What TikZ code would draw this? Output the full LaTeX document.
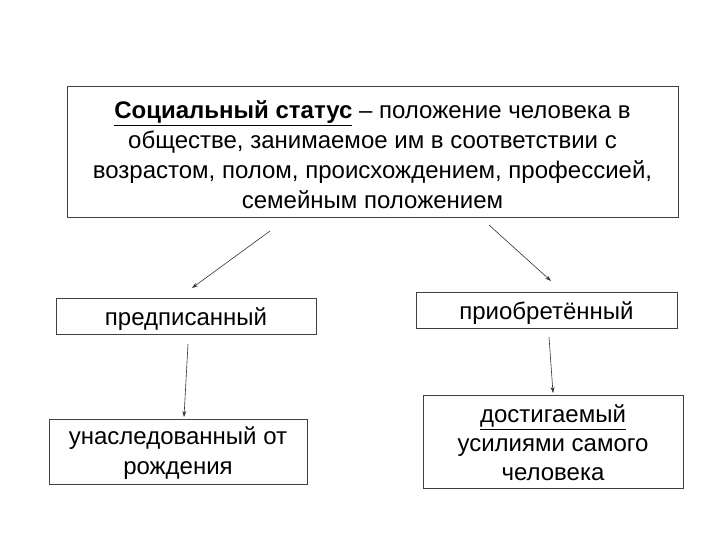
\documentclass[tikz,border=0pt]{standalone}
\usepackage{fontspec}
\setmainfont{Liberation Sans}
\usetikzlibrary{arrows.meta}
\begin{document}
\begin{tikzpicture}[x=1pt,y=-1pt,
  box/.style={draw=black!75,line width=0.8pt,fill=white,inner sep=0pt},
  lbl/.style={font=\fontsize{24}{30}\selectfont,align=center},
  arr/.style={draw=black!80,line width=0.6pt,-{Stealth[length=6pt,width=4pt]}}]
\useasboundingbox (0,0) rectangle (720,540);
\fill[white] (0,0) rectangle (720,540);
% boxes
\draw[box] (67,86) rectangle (678,217);
\node[lbl] (top) at (372.5,155) {\textbf{\underline{Социальный статус}} – положение человека в\\обществе, занимаемое им в соответствии с\\возрастом, полом, происхождением, профессией,\\семейным положением};
\draw[box] (56,298) rectangle (316,334);
\node[lbl] (pre) at (186,319) {предписанный};
\draw[box] (416,292) rectangle (677,328);
\node[lbl] (acq) at (546.5,313) {приобретённый};
\draw[box] (49,419) rectangle (307,484);
\node[lbl] (inh) at (178,453.5) {унаследованный от\\рождения};
\draw[box] (423,395) rectangle (683,488);
\node[lbl,font=\fontsize{24}{29}\selectfont] (ach) at (553,443) {\underline{достигаемый}\\усилиями самого\\человека};
% arrow endpoints
\coordinate (a1s) at (270,231); \coordinate (a1e) at (192,288);
\coordinate (a2s) at (489,225); \coordinate (a2e) at (551,281);
\coordinate (a3s) at (188,344); \coordinate (a3e) at (184,417);
\coordinate (a4s) at (549,337); \coordinate (a4e) at (553,393);
\draw[arr] (a1s) -- (a1e);
\draw[arr] (a2s) -- (a2e);
\draw[arr] (a3s) -- (a3e);
\draw[arr] (a4s) -- (a4e);
\end{tikzpicture}
\end{document}
